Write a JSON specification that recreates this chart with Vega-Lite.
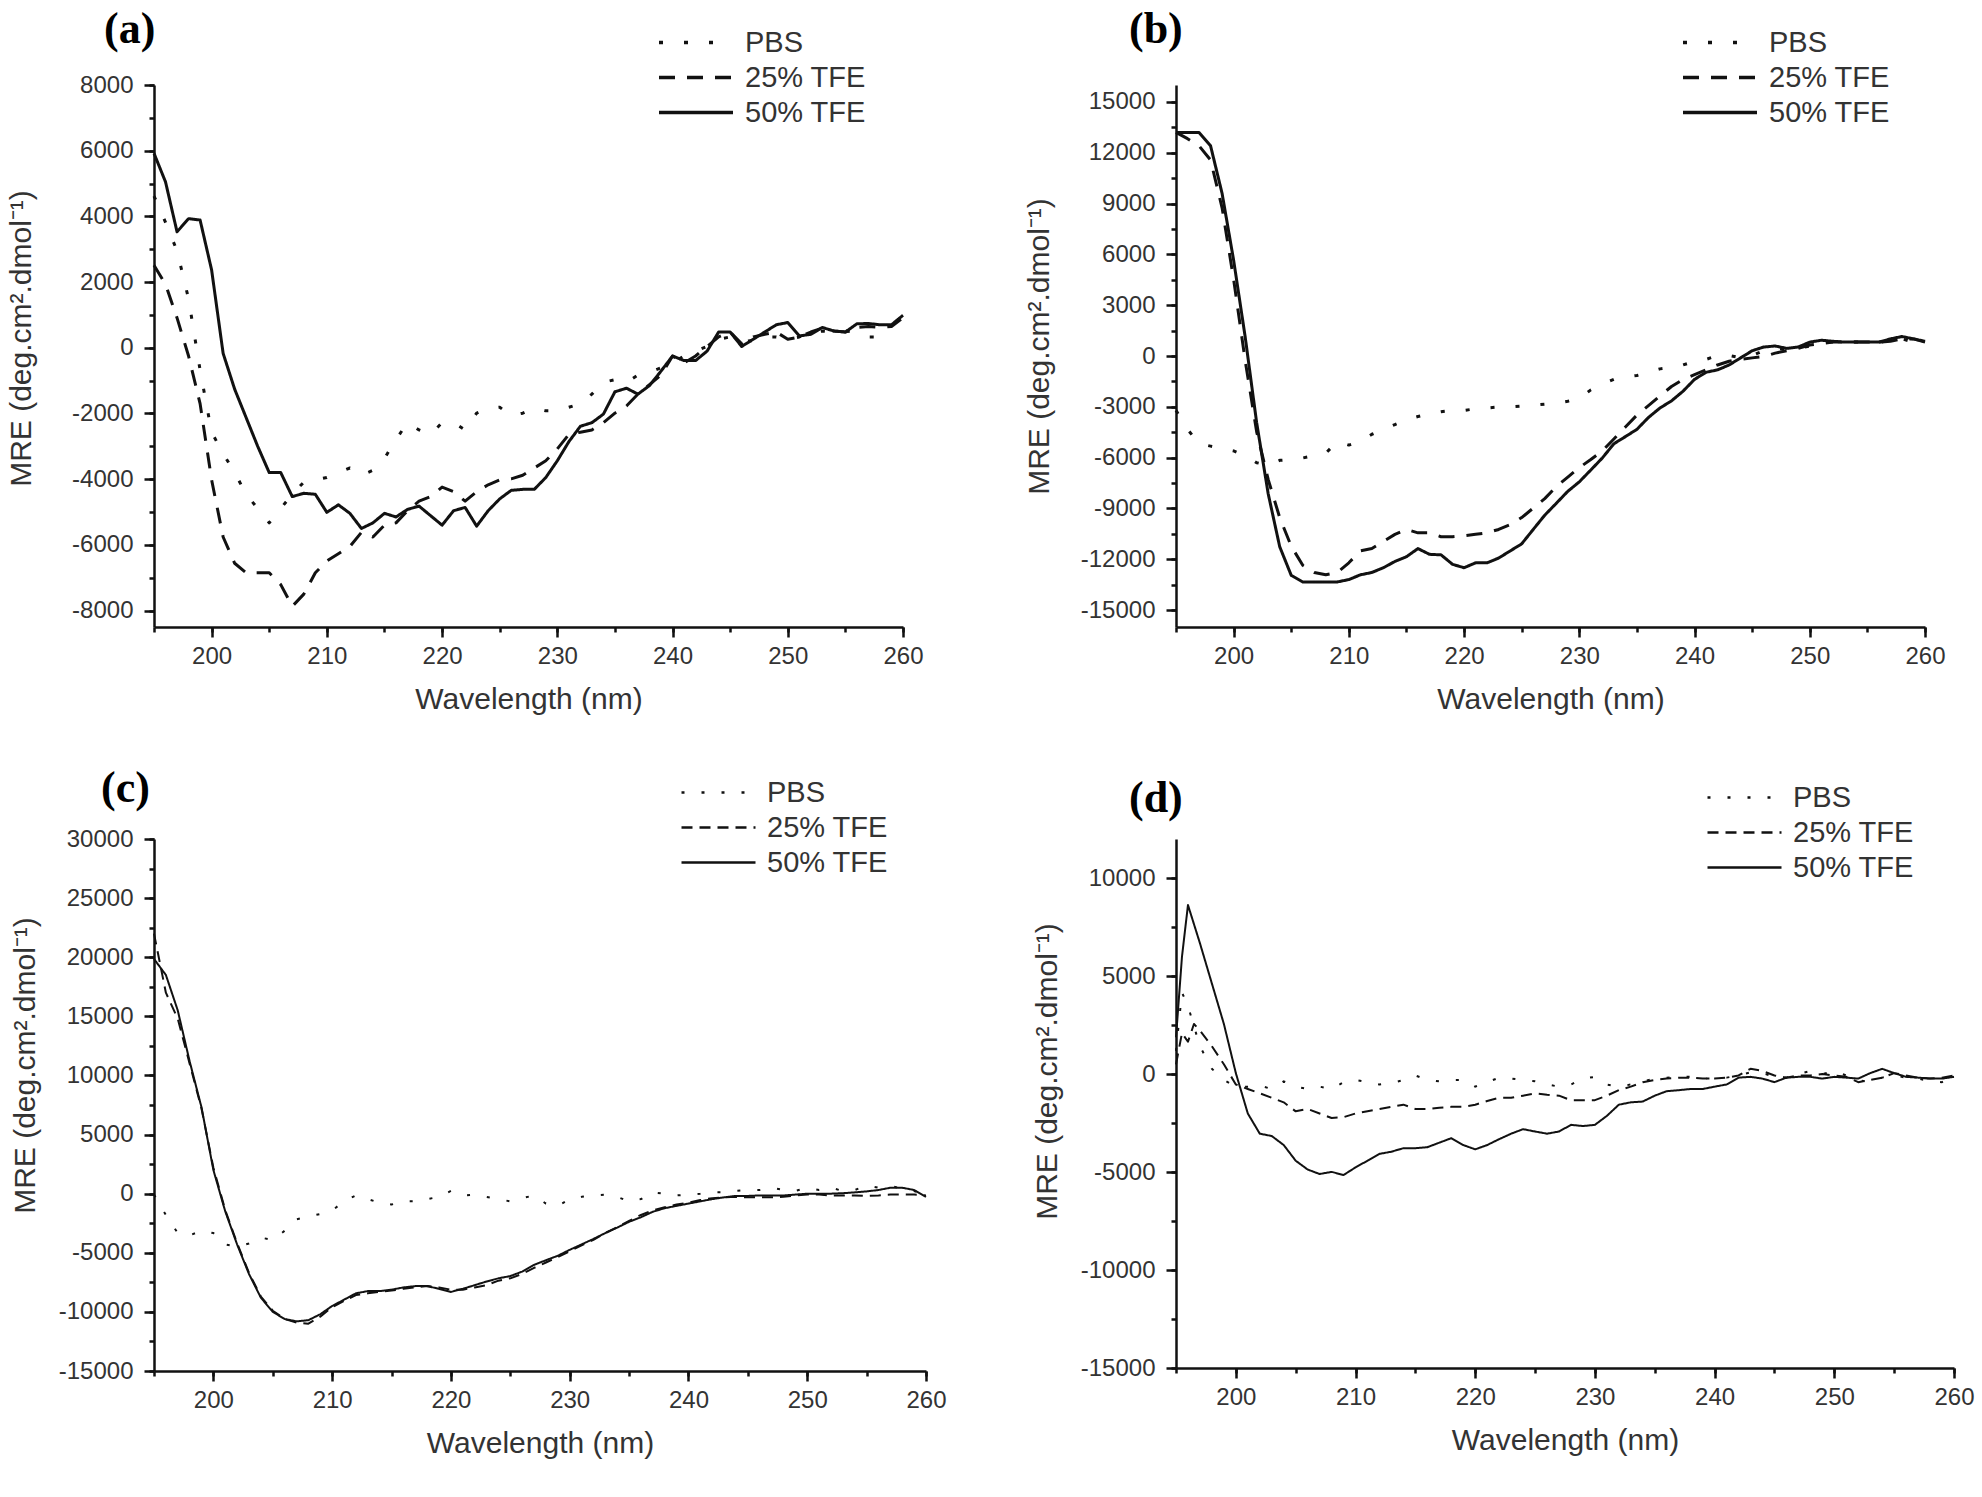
{
"$schema":"https://vega.github.io/schema/vega-lite/v6.json",
"padding":{"left":6,"top":8,"right":5,"bottom":5},
"background":"white",
"data":{"values":[
{"p":"a","s":"PBS","w":195,"m":4620},{"p":"a","s":"PBS","w":196,"m":3820},{"p":"a","s":"PBS","w":197,"m":2950},{"p":"a","s":"PBS","w":198,"m":1490},{"p":"a","s":"PBS","w":199,"m":-680},{"p":"a","s":"PBS","w":200,"m":-2570},{"p":"a","s":"PBS","w":201,"m":-3220},{"p":"a","s":"PBS","w":202,"m":-3800},{"p":"a","s":"PBS","w":203,"m":-4460},{"p":"a","s":"PBS","w":204,"m":-4890},{"p":"a","s":"PBS","w":205,"m":-5330},{"p":"a","s":"PBS","w":206,"m":-4890},{"p":"a","s":"PBS","w":207,"m":-4460},{"p":"a","s":"PBS","w":208,"m":-4090},{"p":"a","s":"PBS","w":209,"m":-4020},{"p":"a","s":"PBS","w":210,"m":-3950},{"p":"a","s":"PBS","w":211,"m":-3800},{"p":"a","s":"PBS","w":212,"m":-3660},{"p":"a","s":"PBS","w":213,"m":-3880},{"p":"a","s":"PBS","w":214,"m":-3730},{"p":"a","s":"PBS","w":215,"m":-3370},{"p":"a","s":"PBS","w":216,"m":-2790},{"p":"a","s":"PBS","w":217,"m":-2280},{"p":"a","s":"PBS","w":218,"m":-2500},{"p":"a","s":"PBS","w":219,"m":-2640},{"p":"a","s":"PBS","w":220,"m":-2280},{"p":"a","s":"PBS","w":221,"m":-2280},{"p":"a","s":"PBS","w":222,"m":-2500},{"p":"a","s":"PBS","w":223,"m":-1990},{"p":"a","s":"PBS","w":224,"m":-1840},{"p":"a","s":"PBS","w":225,"m":-1810},{"p":"a","s":"PBS","w":226,"m":-2060},{"p":"a","s":"PBS","w":227,"m":-1990},{"p":"a","s":"PBS","w":228,"m":-1840},{"p":"a","s":"PBS","w":229,"m":-1920},{"p":"a","s":"PBS","w":230,"m":-1920},{"p":"a","s":"PBS","w":231,"m":-1810},{"p":"a","s":"PBS","w":232,"m":-1700},{"p":"a","s":"PBS","w":233,"m":-1410},{"p":"a","s":"PBS","w":234,"m":-1050},{"p":"a","s":"PBS","w":235,"m":-970},{"p":"a","s":"PBS","w":236,"m":-1050},{"p":"a","s":"PBS","w":237,"m":-830},{"p":"a","s":"PBS","w":238,"m":-750},{"p":"a","s":"PBS","w":239,"m":-610},{"p":"a","s":"PBS","w":240,"m":-460},{"p":"a","s":"PBS","w":241,"m":-250},{"p":"a","s":"PBS","w":242,"m":-100},{"p":"a","s":"PBS","w":243,"m":40},{"p":"a","s":"PBS","w":244,"m":260},{"p":"a","s":"PBS","w":245,"m":330},{"p":"a","s":"PBS","w":246,"m":190},{"p":"a","s":"PBS","w":247,"m":220},{"p":"a","s":"PBS","w":248,"m":330},{"p":"a","s":"PBS","w":249,"m":330},{"p":"a","s":"PBS","w":250,"m":260},{"p":"a","s":"PBS","w":251,"m":330},{"p":"a","s":"PBS","w":252,"m":480},{"p":"a","s":"PBS","w":253,"m":510},{"p":"a","s":"PBS","w":254,"m":480},{"p":"a","s":"PBS","w":255,"m":510},{"p":"a","s":"PBS","w":256,"m":480},{"p":"a","s":"PBS","w":257,"m":330},{"p":"a","s":"PBS","w":258,"m":330},{"p":"a","s":"PBS","w":259,"m":260},
{"p":"a","s":"25% TFE","w":195,"m":2510},{"p":"a","s":"25% TFE","w":196,"m":1930},{"p":"a","s":"25% TFE","w":197,"m":910},{"p":"a","s":"25% TFE","w":198,"m":-250},{"p":"a","s":"25% TFE","w":199,"m":-1700},{"p":"a","s":"25% TFE","w":200,"m":-4020},{"p":"a","s":"25% TFE","w":201,"m":-5760},{"p":"a","s":"25% TFE","w":202,"m":-6560},{"p":"a","s":"25% TFE","w":203,"m":-6850},{"p":"a","s":"25% TFE","w":204,"m":-6850},{"p":"a","s":"25% TFE","w":205,"m":-6850},{"p":"a","s":"25% TFE","w":206,"m":-7210},{"p":"a","s":"25% TFE","w":207,"m":-7870},{"p":"a","s":"25% TFE","w":208,"m":-7500},{"p":"a","s":"25% TFE","w":209,"m":-6850},{"p":"a","s":"25% TFE","w":210,"m":-6490},{"p":"a","s":"25% TFE","w":211,"m":-6270},{"p":"a","s":"25% TFE","w":212,"m":-6050},{"p":"a","s":"25% TFE","w":213,"m":-5620},{"p":"a","s":"25% TFE","w":214,"m":-5760},{"p":"a","s":"25% TFE","w":215,"m":-5400},{"p":"a","s":"25% TFE","w":216,"m":-5330},{"p":"a","s":"25% TFE","w":217,"m":-4960},{"p":"a","s":"25% TFE","w":218,"m":-4670},{"p":"a","s":"25% TFE","w":219,"m":-4530},{"p":"a","s":"25% TFE","w":220,"m":-4240},{"p":"a","s":"25% TFE","w":221,"m":-4380},{"p":"a","s":"25% TFE","w":222,"m":-4670},{"p":"a","s":"25% TFE","w":223,"m":-4380},{"p":"a","s":"25% TFE","w":224,"m":-4170},{"p":"a","s":"25% TFE","w":225,"m":-4020},{"p":"a","s":"25% TFE","w":226,"m":-3990},{"p":"a","s":"25% TFE","w":227,"m":-3880},{"p":"a","s":"25% TFE","w":228,"m":-3660},{"p":"a","s":"25% TFE","w":229,"m":-3440},{"p":"a","s":"25% TFE","w":230,"m":-3080},{"p":"a","s":"25% TFE","w":231,"m":-2640},{"p":"a","s":"25% TFE","w":232,"m":-2570},{"p":"a","s":"25% TFE","w":233,"m":-2500},{"p":"a","s":"25% TFE","w":234,"m":-2280},{"p":"a","s":"25% TFE","w":235,"m":-1990},{"p":"a","s":"25% TFE","w":236,"m":-1770},{"p":"a","s":"25% TFE","w":237,"m":-1410},{"p":"a","s":"25% TFE","w":238,"m":-1120},{"p":"a","s":"25% TFE","w":239,"m":-830},{"p":"a","s":"25% TFE","w":240,"m":-250},{"p":"a","s":"25% TFE","w":241,"m":-460},{"p":"a","s":"25% TFE","w":242,"m":-250},{"p":"a","s":"25% TFE","w":243,"m":40},{"p":"a","s":"25% TFE","w":244,"m":330},{"p":"a","s":"25% TFE","w":245,"m":480},{"p":"a","s":"25% TFE","w":246,"m":120},{"p":"a","s":"25% TFE","w":247,"m":330},{"p":"a","s":"25% TFE","w":248,"m":410},{"p":"a","s":"25% TFE","w":249,"m":480},{"p":"a","s":"25% TFE","w":250,"m":260},{"p":"a","s":"25% TFE","w":251,"m":330},{"p":"a","s":"25% TFE","w":252,"m":480},{"p":"a","s":"25% TFE","w":253,"m":600},{"p":"a","s":"25% TFE","w":254,"m":510},{"p":"a","s":"25% TFE","w":255,"m":480},{"p":"a","s":"25% TFE","w":256,"m":620},{"p":"a","s":"25% TFE","w":257,"m":650},{"p":"a","s":"25% TFE","w":258,"m":620},{"p":"a","s":"25% TFE","w":259,"m":650},{"p":"a","s":"25% TFE","w":260,"m":910},
{"p":"a","s":"50% TFE","w":195,"m":5920},{"p":"a","s":"50% TFE","w":196,"m":5050},{"p":"a","s":"50% TFE","w":197,"m":3530},{"p":"a","s":"50% TFE","w":198,"m":3930},{"p":"a","s":"50% TFE","w":199,"m":3890},{"p":"a","s":"50% TFE","w":200,"m":2370},{"p":"a","s":"50% TFE","w":201,"m":-170},{"p":"a","s":"50% TFE","w":202,"m":-1260},{"p":"a","s":"50% TFE","w":203,"m":-2130},{"p":"a","s":"50% TFE","w":204,"m":-3000},{"p":"a","s":"50% TFE","w":205,"m":-3800},{"p":"a","s":"50% TFE","w":206,"m":-3800},{"p":"a","s":"50% TFE","w":207,"m":-4530},{"p":"a","s":"50% TFE","w":208,"m":-4430},{"p":"a","s":"50% TFE","w":209,"m":-4460},{"p":"a","s":"50% TFE","w":210,"m":-5010},{"p":"a","s":"50% TFE","w":211,"m":-4780},{"p":"a","s":"50% TFE","w":212,"m":-5040},{"p":"a","s":"50% TFE","w":213,"m":-5500},{"p":"a","s":"50% TFE","w":214,"m":-5330},{"p":"a","s":"50% TFE","w":215,"m":-5040},{"p":"a","s":"50% TFE","w":216,"m":-5150},{"p":"a","s":"50% TFE","w":217,"m":-4920},{"p":"a","s":"50% TFE","w":218,"m":-4820},{"p":"a","s":"50% TFE","w":219,"m":-5110},{"p":"a","s":"50% TFE","w":220,"m":-5400},{"p":"a","s":"50% TFE","w":221,"m":-4960},{"p":"a","s":"50% TFE","w":222,"m":-4860},{"p":"a","s":"50% TFE","w":223,"m":-5430},{"p":"a","s":"50% TFE","w":224,"m":-4960},{"p":"a","s":"50% TFE","w":225,"m":-4600},{"p":"a","s":"50% TFE","w":226,"m":-4340},{"p":"a","s":"50% TFE","w":227,"m":-4310},{"p":"a","s":"50% TFE","w":228,"m":-4310},{"p":"a","s":"50% TFE","w":229,"m":-3950},{"p":"a","s":"50% TFE","w":230,"m":-3440},{"p":"a","s":"50% TFE","w":231,"m":-2860},{"p":"a","s":"50% TFE","w":232,"m":-2390},{"p":"a","s":"50% TFE","w":233,"m":-2280},{"p":"a","s":"50% TFE","w":234,"m":-2020},{"p":"a","s":"50% TFE","w":235,"m":-1340},{"p":"a","s":"50% TFE","w":236,"m":-1230},{"p":"a","s":"50% TFE","w":237,"m":-1410},{"p":"a","s":"50% TFE","w":238,"m":-1150},{"p":"a","s":"50% TFE","w":239,"m":-710},{"p":"a","s":"50% TFE","w":240,"m":-250},{"p":"a","s":"50% TFE","w":241,"m":-390},{"p":"a","s":"50% TFE","w":242,"m":-390},{"p":"a","s":"50% TFE","w":243,"m":-100},{"p":"a","s":"50% TFE","w":244,"m":480},{"p":"a","s":"50% TFE","w":245,"m":480},{"p":"a","s":"50% TFE","w":246,"m":40},{"p":"a","s":"50% TFE","w":247,"m":260},{"p":"a","s":"50% TFE","w":248,"m":480},{"p":"a","s":"50% TFE","w":249,"m":700},{"p":"a","s":"50% TFE","w":250,"m":770},{"p":"a","s":"50% TFE","w":251,"m":360},{"p":"a","s":"50% TFE","w":252,"m":410},{"p":"a","s":"50% TFE","w":253,"m":620},{"p":"a","s":"50% TFE","w":254,"m":510},{"p":"a","s":"50% TFE","w":255,"m":480},{"p":"a","s":"50% TFE","w":256,"m":730},{"p":"a","s":"50% TFE","w":257,"m":740},{"p":"a","s":"50% TFE","w":258,"m":700},{"p":"a","s":"50% TFE","w":259,"m":700},{"p":"a","s":"50% TFE","w":260,"m":990},
{"p":"b","s":"PBS","w":195,"m":-3210},{"p":"b","s":"PBS","w":196,"m":-4330},{"p":"b","s":"PBS","w":197,"m":-5180},{"p":"b","s":"PBS","w":198,"m":-5320},{"p":"b","s":"PBS","w":199,"m":-5460},{"p":"b","s":"PBS","w":200,"m":-5600},{"p":"b","s":"PBS","w":201,"m":-5880},{"p":"b","s":"PBS","w":202,"m":-6300},{"p":"b","s":"PBS","w":203,"m":-6450},{"p":"b","s":"PBS","w":204,"m":-6160},{"p":"b","s":"PBS","w":205,"m":-6110},{"p":"b","s":"PBS","w":206,"m":-6020},{"p":"b","s":"PBS","w":207,"m":-5880},{"p":"b","s":"PBS","w":208,"m":-5740},{"p":"b","s":"PBS","w":209,"m":-5040},{"p":"b","s":"PBS","w":210,"m":-5260},{"p":"b","s":"PBS","w":211,"m":-5040},{"p":"b","s":"PBS","w":212,"m":-4620},{"p":"b","s":"PBS","w":213,"m":-4330},{"p":"b","s":"PBS","w":214,"m":-4050},{"p":"b","s":"PBS","w":215,"m":-3770},{"p":"b","s":"PBS","w":216,"m":-3570},{"p":"b","s":"PBS","w":217,"m":-3410},{"p":"b","s":"PBS","w":218,"m":-3290},{"p":"b","s":"PBS","w":219,"m":-3210},{"p":"b","s":"PBS","w":220,"m":-3210},{"p":"b","s":"PBS","w":221,"m":-3120},{"p":"b","s":"PBS","w":222,"m":-3070},{"p":"b","s":"PBS","w":223,"m":-3010},{"p":"b","s":"PBS","w":224,"m":-3010},{"p":"b","s":"PBS","w":225,"m":-2960},{"p":"b","s":"PBS","w":226,"m":-2900},{"p":"b","s":"PBS","w":227,"m":-2840},{"p":"b","s":"PBS","w":228,"m":-2790},{"p":"b","s":"PBS","w":229,"m":-2670},{"p":"b","s":"PBS","w":230,"m":-2500},{"p":"b","s":"PBS","w":231,"m":-2000},{"p":"b","s":"PBS","w":232,"m":-1660},{"p":"b","s":"PBS","w":233,"m":-1380},{"p":"b","s":"PBS","w":234,"m":-1240},{"p":"b","s":"PBS","w":235,"m":-1150},{"p":"b","s":"PBS","w":236,"m":-960},{"p":"b","s":"PBS","w":237,"m":-760},{"p":"b","s":"PBS","w":238,"m":-680},{"p":"b","s":"PBS","w":239,"m":-530},{"p":"b","s":"PBS","w":240,"m":-310},{"p":"b","s":"PBS","w":241,"m":-200},{"p":"b","s":"PBS","w":242,"m":30},{"p":"b","s":"PBS","w":243,"m":30},{"p":"b","s":"PBS","w":244,"m":-110},{"p":"b","s":"PBS","w":245,"m":30},{"p":"b","s":"PBS","w":246,"m":310},{"p":"b","s":"PBS","w":247,"m":450},{"p":"b","s":"PBS","w":248,"m":390},{"p":"b","s":"PBS","w":249,"m":450},{"p":"b","s":"PBS","w":250,"m":590},{"p":"b","s":"PBS","w":251,"m":820},{"p":"b","s":"PBS","w":252,"m":820},{"p":"b","s":"PBS","w":253,"m":820},{"p":"b","s":"PBS","w":254,"m":820},{"p":"b","s":"PBS","w":255,"m":820},{"p":"b","s":"PBS","w":256,"m":820},{"p":"b","s":"PBS","w":257,"m":870},{"p":"b","s":"PBS","w":258,"m":1010},{"p":"b","s":"PBS","w":259,"m":820},{"p":"b","s":"PBS","w":260,"m":820},
{"p":"b","s":"25% TFE","w":195,"m":13200},{"p":"b","s":"25% TFE","w":196,"m":12830},{"p":"b","s":"25% TFE","w":197,"m":12410},{"p":"b","s":"25% TFE","w":198,"m":11570},{"p":"b","s":"25% TFE","w":199,"m":8750},{"p":"b","s":"25% TFE","w":200,"m":4530},{"p":"b","s":"25% TFE","w":201,"m":-250},{"p":"b","s":"25% TFE","w":202,"m":-4480},{"p":"b","s":"25% TFE","w":203,"m":-7290},{"p":"b","s":"25% TFE","w":204,"m":-9540},{"p":"b","s":"25% TFE","w":205,"m":-11230},{"p":"b","s":"25% TFE","w":206,"m":-12360},{"p":"b","s":"25% TFE","w":207,"m":-12780},{"p":"b","s":"25% TFE","w":208,"m":-12920},{"p":"b","s":"25% TFE","w":209,"m":-12780},{"p":"b","s":"25% TFE","w":210,"m":-12210},{"p":"b","s":"25% TFE","w":211,"m":-11510},{"p":"b","s":"25% TFE","w":212,"m":-11370},{"p":"b","s":"25% TFE","w":213,"m":-10950},{"p":"b","s":"25% TFE","w":214,"m":-10530},{"p":"b","s":"25% TFE","w":215,"m":-10240},{"p":"b","s":"25% TFE","w":216,"m":-10440},{"p":"b","s":"25% TFE","w":217,"m":-10440},{"p":"b","s":"25% TFE","w":218,"m":-10670},{"p":"b","s":"25% TFE","w":219,"m":-10670},{"p":"b","s":"25% TFE","w":220,"m":-10610},{"p":"b","s":"25% TFE","w":221,"m":-10530},{"p":"b","s":"25% TFE","w":222,"m":-10440},{"p":"b","s":"25% TFE","w":223,"m":-10240},{"p":"b","s":"25% TFE","w":224,"m":-9960},{"p":"b","s":"25% TFE","w":225,"m":-9540},{"p":"b","s":"25% TFE","w":226,"m":-8980},{"p":"b","s":"25% TFE","w":227,"m":-8420},{"p":"b","s":"25% TFE","w":228,"m":-7710},{"p":"b","s":"25% TFE","w":229,"m":-7150},{"p":"b","s":"25% TFE","w":230,"m":-6590},{"p":"b","s":"25% TFE","w":231,"m":-6110},{"p":"b","s":"25% TFE","w":232,"m":-5600},{"p":"b","s":"25% TFE","w":233,"m":-4900},{"p":"b","s":"25% TFE","w":234,"m":-4190},{"p":"b","s":"25% TFE","w":235,"m":-3490},{"p":"b","s":"25% TFE","w":236,"m":-2930},{"p":"b","s":"25% TFE","w":237,"m":-2360},{"p":"b","s":"25% TFE","w":238,"m":-1800},{"p":"b","s":"25% TFE","w":239,"m":-1380},{"p":"b","s":"25% TFE","w":240,"m":-1100},{"p":"b","s":"25% TFE","w":241,"m":-820},{"p":"b","s":"25% TFE","w":242,"m":-530},{"p":"b","s":"25% TFE","w":243,"m":-310},{"p":"b","s":"25% TFE","w":244,"m":-200},{"p":"b","s":"25% TFE","w":245,"m":-110},{"p":"b","s":"25% TFE","w":246,"m":-30},{"p":"b","s":"25% TFE","w":247,"m":170},{"p":"b","s":"25% TFE","w":248,"m":310},{"p":"b","s":"25% TFE","w":249,"m":450},{"p":"b","s":"25% TFE","w":250,"m":650},{"p":"b","s":"25% TFE","w":251,"m":730},{"p":"b","s":"25% TFE","w":252,"m":820},{"p":"b","s":"25% TFE","w":253,"m":820},{"p":"b","s":"25% TFE","w":254,"m":820},{"p":"b","s":"25% TFE","w":255,"m":820},{"p":"b","s":"25% TFE","w":256,"m":820},{"p":"b","s":"25% TFE","w":257,"m":870},{"p":"b","s":"25% TFE","w":258,"m":1010},{"p":"b","s":"25% TFE","w":259,"m":1010},{"p":"b","s":"25% TFE","w":260,"m":820},
{"p":"b","s":"50% TFE","w":195,"m":13200},{"p":"b","s":"50% TFE","w":196,"m":13200},{"p":"b","s":"50% TFE","w":197,"m":13200},{"p":"b","s":"50% TFE","w":198,"m":12410},{"p":"b","s":"50% TFE","w":199,"m":9600},{"p":"b","s":"50% TFE","w":200,"m":5660},{"p":"b","s":"50% TFE","w":201,"m":1150},{"p":"b","s":"50% TFE","w":202,"m":-3940},{"p":"b","s":"50% TFE","w":203,"m":-8130},{"p":"b","s":"50% TFE","w":204,"m":-11260},{"p":"b","s":"50% TFE","w":205,"m":-12950},{"p":"b","s":"50% TFE","w":206,"m":-13340},{"p":"b","s":"50% TFE","w":207,"m":-13340},{"p":"b","s":"50% TFE","w":208,"m":-13340},{"p":"b","s":"50% TFE","w":209,"m":-13340},{"p":"b","s":"50% TFE","w":210,"m":-13200},{"p":"b","s":"50% TFE","w":211,"m":-12920},{"p":"b","s":"50% TFE","w":212,"m":-12780},{"p":"b","s":"50% TFE","w":213,"m":-12500},{"p":"b","s":"50% TFE","w":214,"m":-12130},{"p":"b","s":"50% TFE","w":215,"m":-11850},{"p":"b","s":"50% TFE","w":216,"m":-11370},{"p":"b","s":"50% TFE","w":217,"m":-11710},{"p":"b","s":"50% TFE","w":218,"m":-11740},{"p":"b","s":"50% TFE","w":219,"m":-12300},{"p":"b","s":"50% TFE","w":220,"m":-12500},{"p":"b","s":"50% TFE","w":221,"m":-12210},{"p":"b","s":"50% TFE","w":222,"m":-12210},{"p":"b","s":"50% TFE","w":223,"m":-11930},{"p":"b","s":"50% TFE","w":224,"m":-11510},{"p":"b","s":"50% TFE","w":225,"m":-11090},{"p":"b","s":"50% TFE","w":226,"m":-10240},{"p":"b","s":"50% TFE","w":227,"m":-9400},{"p":"b","s":"50% TFE","w":228,"m":-8700},{"p":"b","s":"50% TFE","w":229,"m":-7990},{"p":"b","s":"50% TFE","w":230,"m":-7430},{"p":"b","s":"50% TFE","w":231,"m":-6730},{"p":"b","s":"50% TFE","w":232,"m":-6020},{"p":"b","s":"50% TFE","w":233,"m":-5180},{"p":"b","s":"50% TFE","w":234,"m":-4760},{"p":"b","s":"50% TFE","w":235,"m":-4330},{"p":"b","s":"50% TFE","w":236,"m":-3630},{"p":"b","s":"50% TFE","w":237,"m":-3070},{"p":"b","s":"50% TFE","w":238,"m":-2650},{"p":"b","s":"50% TFE","w":239,"m":-2080},{"p":"b","s":"50% TFE","w":240,"m":-1380},{"p":"b","s":"50% TFE","w":241,"m":-960},{"p":"b","s":"50% TFE","w":242,"m":-820},{"p":"b","s":"50% TFE","w":243,"m":-530},{"p":"b","s":"50% TFE","w":244,"m":-110},{"p":"b","s":"50% TFE","w":245,"m":310},{"p":"b","s":"50% TFE","w":246,"m":530},{"p":"b","s":"50% TFE","w":247,"m":590},{"p":"b","s":"50% TFE","w":248,"m":450},{"p":"b","s":"50% TFE","w":249,"m":530},{"p":"b","s":"50% TFE","w":250,"m":820},{"p":"b","s":"50% TFE","w":251,"m":930},{"p":"b","s":"50% TFE","w":252,"m":870},{"p":"b","s":"50% TFE","w":253,"m":820},{"p":"b","s":"50% TFE","w":254,"m":820},{"p":"b","s":"50% TFE","w":255,"m":820},{"p":"b","s":"50% TFE","w":256,"m":820},{"p":"b","s":"50% TFE","w":257,"m":1010},{"p":"b","s":"50% TFE","w":258,"m":1150},{"p":"b","s":"50% TFE","w":259,"m":1010},{"p":"b","s":"50% TFE","w":260,"m":870},
{"p":"c","s":"PBS","w":195,"m":-80},{"p":"c","s":"PBS","w":196,"m":-1800},{"p":"c","s":"PBS","w":197,"m":-3330},{"p":"c","s":"PBS","w":198,"m":-3520},{"p":"c","s":"PBS","w":199,"m":-3140},{"p":"c","s":"PBS","w":200,"m":-3330},{"p":"c","s":"PBS","w":201,"m":-4290},{"p":"c","s":"PBS","w":202,"m":-4480},{"p":"c","s":"PBS","w":203,"m":-4210},{"p":"c","s":"PBS","w":204,"m":-3720},{"p":"c","s":"PBS","w":205,"m":-3910},{"p":"c","s":"PBS","w":206,"m":-3140},{"p":"c","s":"PBS","w":207,"m":-2180},{"p":"c","s":"PBS","w":208,"m":-1920},{"p":"c","s":"PBS","w":209,"m":-1720},{"p":"c","s":"PBS","w":210,"m":-1420},{"p":"c","s":"PBS","w":211,"m":-650},{"p":"c","s":"PBS","w":212,"m":-150},{"p":"c","s":"PBS","w":213,"m":-460},{"p":"c","s":"PBS","w":214,"m":-770},{"p":"c","s":"PBS","w":215,"m":-920},{"p":"c","s":"PBS","w":216,"m":-650},{"p":"c","s":"PBS","w":217,"m":-650},{"p":"c","s":"PBS","w":218,"m":-460},{"p":"c","s":"PBS","w":219,"m":-270},{"p":"c","s":"PBS","w":220,"m":230},{"p":"c","s":"PBS","w":221,"m":-150},{"p":"c","s":"PBS","w":222,"m":-80},{"p":"c","s":"PBS","w":223,"m":-270},{"p":"c","s":"PBS","w":224,"m":-460},{"p":"c","s":"PBS","w":225,"m":-650},{"p":"c","s":"PBS","w":226,"m":-380},{"p":"c","s":"PBS","w":227,"m":-150},{"p":"c","s":"PBS","w":228,"m":-840},{"p":"c","s":"PBS","w":229,"m":-1030},{"p":"c","s":"PBS","w":230,"m":-460},{"p":"c","s":"PBS","w":231,"m":-270},{"p":"c","s":"PBS","w":232,"m":-150},{"p":"c","s":"PBS","w":233,"m":-80},{"p":"c","s":"PBS","w":234,"m":-270},{"p":"c","s":"PBS","w":235,"m":-650},{"p":"c","s":"PBS","w":236,"m":-460},{"p":"c","s":"PBS","w":237,"m":110},{"p":"c","s":"PBS","w":238,"m":0},{"p":"c","s":"PBS","w":239,"m":-150},{"p":"c","s":"PBS","w":240,"m":-80},{"p":"c","s":"PBS","w":241,"m":0},{"p":"c","s":"PBS","w":242,"m":110},{"p":"c","s":"PBS","w":243,"m":110},{"p":"c","s":"PBS","w":244,"m":230},{"p":"c","s":"PBS","w":245,"m":310},{"p":"c","s":"PBS","w":246,"m":310},{"p":"c","s":"PBS","w":247,"m":500},{"p":"c","s":"PBS","w":248,"m":310},{"p":"c","s":"PBS","w":249,"m":230},{"p":"c","s":"PBS","w":250,"m":500},{"p":"c","s":"PBS","w":251,"m":310},{"p":"c","s":"PBS","w":252,"m":500},{"p":"c","s":"PBS","w":253,"m":230},{"p":"c","s":"PBS","w":254,"m":310},{"p":"c","s":"PBS","w":255,"m":690},{"p":"c","s":"PBS","w":256,"m":500},{"p":"c","s":"PBS","w":257,"m":690},{"p":"c","s":"PBS","w":258,"m":380},{"p":"c","s":"PBS","w":259,"m":230},{"p":"c","s":"PBS","w":260,"m":-80},
{"p":"c","s":"25% TFE","w":195,"m":22000},{"p":"c","s":"25% TFE","w":196,"m":17000},{"p":"c","s":"25% TFE","w":197,"m":14800},{"p":"c","s":"25% TFE","w":198,"m":11000},{"p":"c","s":"25% TFE","w":199,"m":7200},{"p":"c","s":"25% TFE","w":200,"m":2200},{"p":"c","s":"25% TFE","w":201,"m":-1400},{"p":"c","s":"25% TFE","w":202,"m":-4200},{"p":"c","s":"25% TFE","w":203,"m":-6700},{"p":"c","s":"25% TFE","w":204,"m":-8700},{"p":"c","s":"25% TFE","w":205,"m":-9900},{"p":"c","s":"25% TFE","w":206,"m":-10600},{"p":"c","s":"25% TFE","w":207,"m":-10900},{"p":"c","s":"25% TFE","w":208,"m":-11000},{"p":"c","s":"25% TFE","w":209,"m":-10400},{"p":"c","s":"25% TFE","w":210,"m":-9600},{"p":"c","s":"25% TFE","w":211,"m":-9080},{"p":"c","s":"25% TFE","w":212,"m":-8580},{"p":"c","s":"25% TFE","w":213,"m":-8430},{"p":"c","s":"25% TFE","w":214,"m":-8310},{"p":"c","s":"25% TFE","w":215,"m":-8200},{"p":"c","s":"25% TFE","w":216,"m":-8050},{"p":"c","s":"25% TFE","w":217,"m":-7930},{"p":"c","s":"25% TFE","w":218,"m":-7820},{"p":"c","s":"25% TFE","w":219,"m":-7930},{"p":"c","s":"25% TFE","w":220,"m":-8120},{"p":"c","s":"25% TFE","w":221,"m":-8120},{"p":"c","s":"25% TFE","w":222,"m":-7930},{"p":"c","s":"25% TFE","w":223,"m":-7740},{"p":"c","s":"25% TFE","w":224,"m":-7360},{"p":"c","s":"25% TFE","w":225,"m":-7160},{"p":"c","s":"25% TFE","w":226,"m":-6780},{"p":"c","s":"25% TFE","w":227,"m":-6280},{"p":"c","s":"25% TFE","w":228,"m":-5820},{"p":"c","s":"25% TFE","w":229,"m":-5360},{"p":"c","s":"25% TFE","w":230,"m":-4870},{"p":"c","s":"25% TFE","w":231,"m":-4370},{"p":"c","s":"25% TFE","w":232,"m":-3910},{"p":"c","s":"25% TFE","w":233,"m":-3330},{"p":"c","s":"25% TFE","w":234,"m":-2840},{"p":"c","s":"25% TFE","w":235,"m":-2300},{"p":"c","s":"25% TFE","w":236,"m":-1800},{"p":"c","s":"25% TFE","w":237,"m":-1420},{"p":"c","s":"25% TFE","w":238,"m":-1150},{"p":"c","s":"25% TFE","w":239,"m":-920},{"p":"c","s":"25% TFE","w":240,"m":-770},{"p":"c","s":"25% TFE","w":241,"m":-540},{"p":"c","s":"25% TFE","w":242,"m":-380},{"p":"c","s":"25% TFE","w":243,"m":-310},{"p":"c","s":"25% TFE","w":244,"m":-270},{"p":"c","s":"25% TFE","w":245,"m":-310},{"p":"c","s":"25% TFE","w":246,"m":-310},{"p":"c","s":"25% TFE","w":247,"m":-310},{"p":"c","s":"25% TFE","w":248,"m":-270},{"p":"c","s":"25% TFE","w":249,"m":-150},{"p":"c","s":"25% TFE","w":250,"m":-80},{"p":"c","s":"25% TFE","w":251,"m":-80},{"p":"c","s":"25% TFE","w":252,"m":-150},{"p":"c","s":"25% TFE","w":253,"m":-150},{"p":"c","s":"25% TFE","w":254,"m":-150},{"p":"c","s":"25% TFE","w":255,"m":-190},{"p":"c","s":"25% TFE","w":256,"m":-150},{"p":"c","s":"25% TFE","w":257,"m":-80},{"p":"c","s":"25% TFE","w":258,"m":-80},{"p":"c","s":"25% TFE","w":259,"m":-80},{"p":"c","s":"25% TFE","w":260,"m":-150},
{"p":"c","s":"50% TFE","w":195,"m":19850},{"p":"c","s":"50% TFE","w":196,"m":18500},{"p":"c","s":"50% TFE","w":197,"m":15500},{"p":"c","s":"50% TFE","w":198,"m":11200},{"p":"c","s":"50% TFE","w":199,"m":7300},{"p":"c","s":"50% TFE","w":200,"m":2000},{"p":"c","s":"50% TFE","w":201,"m":-1500},{"p":"c","s":"50% TFE","w":202,"m":-4300},{"p":"c","s":"50% TFE","w":203,"m":-6800},{"p":"c","s":"50% TFE","w":204,"m":-8800},{"p":"c","s":"50% TFE","w":205,"m":-10000},{"p":"c","s":"50% TFE","w":206,"m":-10600},{"p":"c","s":"50% TFE","w":207,"m":-10800},{"p":"c","s":"50% TFE","w":208,"m":-10700},{"p":"c","s":"50% TFE","w":209,"m":-10200},{"p":"c","s":"50% TFE","w":210,"m":-9500},{"p":"c","s":"50% TFE","w":211,"m":-8970},{"p":"c","s":"50% TFE","w":212,"m":-8430},{"p":"c","s":"50% TFE","w":213,"m":-8240},{"p":"c","s":"50% TFE","w":214,"m":-8240},{"p":"c","s":"50% TFE","w":215,"m":-8120},{"p":"c","s":"50% TFE","w":216,"m":-7930},{"p":"c","s":"50% TFE","w":217,"m":-7820},{"p":"c","s":"50% TFE","w":218,"m":-7820},{"p":"c","s":"50% TFE","w":219,"m":-8050},{"p":"c","s":"50% TFE","w":220,"m":-8310},{"p":"c","s":"50% TFE","w":221,"m":-8050},{"p":"c","s":"50% TFE","w":222,"m":-7740},{"p":"c","s":"50% TFE","w":223,"m":-7430},{"p":"c","s":"50% TFE","w":224,"m":-7160},{"p":"c","s":"50% TFE","w":225,"m":-6970},{"p":"c","s":"50% TFE","w":226,"m":-6590},{"p":"c","s":"50% TFE","w":227,"m":-6020},{"p":"c","s":"50% TFE","w":228,"m":-5630},{"p":"c","s":"50% TFE","w":229,"m":-5250},{"p":"c","s":"50% TFE","w":230,"m":-4750},{"p":"c","s":"50% TFE","w":231,"m":-4290},{"p":"c","s":"50% TFE","w":232,"m":-3830},{"p":"c","s":"50% TFE","w":233,"m":-3330},{"p":"c","s":"50% TFE","w":234,"m":-2870},{"p":"c","s":"50% TFE","w":235,"m":-2380},{"p":"c","s":"50% TFE","w":236,"m":-1990},{"p":"c","s":"50% TFE","w":237,"m":-1530},{"p":"c","s":"50% TFE","w":238,"m":-1230},{"p":"c","s":"50% TFE","w":239,"m":-1030},{"p":"c","s":"50% TFE","w":240,"m":-840},{"p":"c","s":"50% TFE","w":241,"m":-650},{"p":"c","s":"50% TFE","w":242,"m":-460},{"p":"c","s":"50% TFE","w":243,"m":-310},{"p":"c","s":"50% TFE","w":244,"m":-190},{"p":"c","s":"50% TFE","w":245,"m":-190},{"p":"c","s":"50% TFE","w":246,"m":-150},{"p":"c","s":"50% TFE","w":247,"m":-150},{"p":"c","s":"50% TFE","w":248,"m":-150},{"p":"c","s":"50% TFE","w":249,"m":-80},{"p":"c","s":"50% TFE","w":250,"m":0},{"p":"c","s":"50% TFE","w":251,"m":0},{"p":"c","s":"50% TFE","w":252,"m":0},{"p":"c","s":"50% TFE","w":253,"m":40},{"p":"c","s":"50% TFE","w":254,"m":110},{"p":"c","s":"50% TFE","w":255,"m":190},{"p":"c","s":"50% TFE","w":256,"m":310},{"p":"c","s":"50% TFE","w":257,"m":500},{"p":"c","s":"50% TFE","w":258,"m":500},{"p":"c","s":"50% TFE","w":259,"m":310},{"p":"c","s":"50% TFE","w":260,"m":-270},
{"p":"d","s":"PBS","w":195,"m":1190},{"p":"d","s":"PBS","w":195.5,"m":4160},{"p":"d","s":"PBS","w":196,"m":3480},{"p":"d","s":"PBS","w":197,"m":1420},{"p":"d","s":"PBS","w":198,"m":270},{"p":"d","s":"PBS","w":199,"m":-300},{"p":"d","s":"PBS","w":200,"m":-640},{"p":"d","s":"PBS","w":201,"m":-640},{"p":"d","s":"PBS","w":202,"m":-590},{"p":"d","s":"PBS","w":203,"m":-760},{"p":"d","s":"PBS","w":204,"m":-370},{"p":"d","s":"PBS","w":205,"m":-640},{"p":"d","s":"PBS","w":206,"m":-760},{"p":"d","s":"PBS","w":207,"m":-640},{"p":"d","s":"PBS","w":208,"m":-760},{"p":"d","s":"PBS","w":209,"m":-410},{"p":"d","s":"PBS","w":210,"m":-300},{"p":"d","s":"PBS","w":211,"m":-410},{"p":"d","s":"PBS","w":212,"m":-530},{"p":"d","s":"PBS","w":213,"m":-460},{"p":"d","s":"PBS","w":214,"m":-300},{"p":"d","s":"PBS","w":215,"m":-70},{"p":"d","s":"PBS","w":216,"m":-300},{"p":"d","s":"PBS","w":217,"m":-370},{"p":"d","s":"PBS","w":218,"m":-300},{"p":"d","s":"PBS","w":219,"m":-300},{"p":"d","s":"PBS","w":220,"m":-640},{"p":"d","s":"PBS","w":221,"m":-410},{"p":"d","s":"PBS","w":222,"m":-180},{"p":"d","s":"PBS","w":223,"m":-230},{"p":"d","s":"PBS","w":224,"m":-300},{"p":"d","s":"PBS","w":225,"m":-370},{"p":"d","s":"PBS","w":226,"m":-530},{"p":"d","s":"PBS","w":227,"m":-640},{"p":"d","s":"PBS","w":228,"m":-530},{"p":"d","s":"PBS","w":229,"m":-230},{"p":"d","s":"PBS","w":230,"m":-140},{"p":"d","s":"PBS","w":231,"m":-530},{"p":"d","s":"PBS","w":232,"m":-640},{"p":"d","s":"PBS","w":233,"m":-530},{"p":"d","s":"PBS","w":234,"m":-370},{"p":"d","s":"PBS","w":235,"m":-230},{"p":"d","s":"PBS","w":236,"m":-180},{"p":"d","s":"PBS","w":237,"m":-140},{"p":"d","s":"PBS","w":238,"m":-140},{"p":"d","s":"PBS","w":239,"m":-230},{"p":"d","s":"PBS","w":240,"m":-230},{"p":"d","s":"PBS","w":241,"m":-180},{"p":"d","s":"PBS","w":242,"m":-70},{"p":"d","s":"PBS","w":243,"m":90},{"p":"d","s":"PBS","w":244,"m":50},{"p":"d","s":"PBS","w":245,"m":-140},{"p":"d","s":"PBS","w":246,"m":-180},{"p":"d","s":"PBS","w":247,"m":0},{"p":"d","s":"PBS","w":248,"m":160},{"p":"d","s":"PBS","w":249,"m":0},{"p":"d","s":"PBS","w":250,"m":160},{"p":"d","s":"PBS","w":251,"m":-70},{"p":"d","s":"PBS","w":252,"m":-300},{"p":"d","s":"PBS","w":253,"m":-410},{"p":"d","s":"PBS","w":254,"m":-180},{"p":"d","s":"PBS","w":255,"m":-70},{"p":"d","s":"PBS","w":256,"m":-180},{"p":"d","s":"PBS","w":257,"m":-230},{"p":"d","s":"PBS","w":258,"m":-370},{"p":"d","s":"PBS","w":259,"m":-410},{"p":"d","s":"PBS","w":260,"m":-180},
{"p":"d","s":"25% TFE","w":195,"m":500},{"p":"d","s":"25% TFE","w":195.5,"m":2100},{"p":"d","s":"25% TFE","w":196,"m":1650},{"p":"d","s":"25% TFE","w":196.5,"m":2560},{"p":"d","s":"25% TFE","w":197,"m":2220},{"p":"d","s":"25% TFE","w":198,"m":1420},{"p":"d","s":"25% TFE","w":199,"m":500},{"p":"d","s":"25% TFE","w":200,"m":-530},{"p":"d","s":"25% TFE","w":201,"m":-760},{"p":"d","s":"25% TFE","w":202,"m":-980},{"p":"d","s":"25% TFE","w":203,"m":-1210},{"p":"d","s":"25% TFE","w":204,"m":-1440},{"p":"d","s":"25% TFE","w":205,"m":-1900},{"p":"d","s":"25% TFE","w":206,"m":-1780},{"p":"d","s":"25% TFE","w":207,"m":-2010},{"p":"d","s":"25% TFE","w":208,"m":-2240},{"p":"d","s":"25% TFE","w":209,"m":-2200},{"p":"d","s":"25% TFE","w":210,"m":-2010},{"p":"d","s":"25% TFE","w":211,"m":-1900},{"p":"d","s":"25% TFE","w":212,"m":-1780},{"p":"d","s":"25% TFE","w":213,"m":-1670},{"p":"d","s":"25% TFE","w":214,"m":-1560},{"p":"d","s":"25% TFE","w":215,"m":-1780},{"p":"d","s":"25% TFE","w":216,"m":-1780},{"p":"d","s":"25% TFE","w":217,"m":-1720},{"p":"d","s":"25% TFE","w":218,"m":-1670},{"p":"d","s":"25% TFE","w":219,"m":-1670},{"p":"d","s":"25% TFE","w":220,"m":-1560},{"p":"d","s":"25% TFE","w":221,"m":-1370},{"p":"d","s":"25% TFE","w":222,"m":-1210},{"p":"d","s":"25% TFE","w":223,"m":-1210},{"p":"d","s":"25% TFE","w":224,"m":-1100},{"p":"d","s":"25% TFE","w":225,"m":-980},{"p":"d","s":"25% TFE","w":226,"m":-1050},{"p":"d","s":"25% TFE","w":227,"m":-1100},{"p":"d","s":"25% TFE","w":228,"m":-1330},{"p":"d","s":"25% TFE","w":229,"m":-1330},{"p":"d","s":"25% TFE","w":230,"m":-1330},{"p":"d","s":"25% TFE","w":231,"m":-1100},{"p":"d","s":"25% TFE","w":232,"m":-820},{"p":"d","s":"25% TFE","w":233,"m":-640},{"p":"d","s":"25% TFE","w":234,"m":-410},{"p":"d","s":"25% TFE","w":235,"m":-300},{"p":"d","s":"25% TFE","w":236,"m":-230},{"p":"d","s":"25% TFE","w":237,"m":-180},{"p":"d","s":"25% TFE","w":238,"m":-180},{"p":"d","s":"25% TFE","w":239,"m":-230},{"p":"d","s":"25% TFE","w":240,"m":-230},{"p":"d","s":"25% TFE","w":241,"m":-180},{"p":"d","s":"25% TFE","w":242,"m":-70},{"p":"d","s":"25% TFE","w":243,"m":270},{"p":"d","s":"25% TFE","w":244,"m":160},{"p":"d","s":"25% TFE","w":245,"m":-70},{"p":"d","s":"25% TFE","w":246,"m":-180},{"p":"d","s":"25% TFE","w":247,"m":-70},{"p":"d","s":"25% TFE","w":248,"m":-70},{"p":"d","s":"25% TFE","w":249,"m":0},{"p":"d","s":"25% TFE","w":250,"m":-70},{"p":"d","s":"25% TFE","w":251,"m":-140},{"p":"d","s":"25% TFE","w":252,"m":-410},{"p":"d","s":"25% TFE","w":253,"m":-300},{"p":"d","s":"25% TFE","w":254,"m":-180},{"p":"d","s":"25% TFE","w":255,"m":50},{"p":"d","s":"25% TFE","w":256,"m":-70},{"p":"d","s":"25% TFE","w":257,"m":-180},{"p":"d","s":"25% TFE","w":258,"m":-230},{"p":"d","s":"25% TFE","w":259,"m":-180},{"p":"d","s":"25% TFE","w":260,"m":-70},
{"p":"d","s":"50% TFE","w":195,"m":1880},{"p":"d","s":"50% TFE","w":195.5,"m":6000},{"p":"d","s":"50% TFE","w":196,"m":8630},{"p":"d","s":"50% TFE","w":197,"m":6680},{"p":"d","s":"50% TFE","w":198,"m":4620},{"p":"d","s":"50% TFE","w":199,"m":2560},{"p":"d","s":"50% TFE","w":200,"m":50},{"p":"d","s":"50% TFE","w":201,"m":-2010},{"p":"d","s":"50% TFE","w":202,"m":-3040},{"p":"d","s":"50% TFE","w":203,"m":-3160},{"p":"d","s":"50% TFE","w":204,"m":-3620},{"p":"d","s":"50% TFE","w":205,"m":-4420},{"p":"d","s":"50% TFE","w":206,"m":-4870},{"p":"d","s":"50% TFE","w":207,"m":-5100},{"p":"d","s":"50% TFE","w":208,"m":-4990},{"p":"d","s":"50% TFE","w":209,"m":-5150},{"p":"d","s":"50% TFE","w":210,"m":-4760},{"p":"d","s":"50% TFE","w":211,"m":-4420},{"p":"d","s":"50% TFE","w":212,"m":-4070},{"p":"d","s":"50% TFE","w":213,"m":-3960},{"p":"d","s":"50% TFE","w":214,"m":-3780},{"p":"d","s":"50% TFE","w":215,"m":-3780},{"p":"d","s":"50% TFE","w":216,"m":-3730},{"p":"d","s":"50% TFE","w":217,"m":-3500},{"p":"d","s":"50% TFE","w":218,"m":-3270},{"p":"d","s":"50% TFE","w":219,"m":-3620},{"p":"d","s":"50% TFE","w":220,"m":-3840},{"p":"d","s":"50% TFE","w":221,"m":-3620},{"p":"d","s":"50% TFE","w":222,"m":-3320},{"p":"d","s":"50% TFE","w":223,"m":-3040},{"p":"d","s":"50% TFE","w":224,"m":-2810},{"p":"d","s":"50% TFE","w":225,"m":-2930},{"p":"d","s":"50% TFE","w":226,"m":-3040},{"p":"d","s":"50% TFE","w":227,"m":-2930},{"p":"d","s":"50% TFE","w":228,"m":-2590},{"p":"d","s":"50% TFE","w":229,"m":-2650},{"p":"d","s":"50% TFE","w":230,"m":-2590},{"p":"d","s":"50% TFE","w":231,"m":-2130},{"p":"d","s":"50% TFE","w":232,"m":-1560},{"p":"d","s":"50% TFE","w":233,"m":-1440},{"p":"d","s":"50% TFE","w":234,"m":-1400},{"p":"d","s":"50% TFE","w":235,"m":-1100},{"p":"d","s":"50% TFE","w":236,"m":-870},{"p":"d","s":"50% TFE","w":237,"m":-820},{"p":"d","s":"50% TFE","w":238,"m":-760},{"p":"d","s":"50% TFE","w":239,"m":-760},{"p":"d","s":"50% TFE","w":240,"m":-640},{"p":"d","s":"50% TFE","w":241,"m":-530},{"p":"d","s":"50% TFE","w":242,"m":-180},{"p":"d","s":"50% TFE","w":243,"m":-140},{"p":"d","s":"50% TFE","w":244,"m":-230},{"p":"d","s":"50% TFE","w":245,"m":-410},{"p":"d","s":"50% TFE","w":246,"m":-180},{"p":"d","s":"50% TFE","w":247,"m":-140},{"p":"d","s":"50% TFE","w":248,"m":-140},{"p":"d","s":"50% TFE","w":249,"m":-230},{"p":"d","s":"50% TFE","w":250,"m":-140},{"p":"d","s":"50% TFE","w":251,"m":-180},{"p":"d","s":"50% TFE","w":252,"m":-230},{"p":"d","s":"50% TFE","w":253,"m":50},{"p":"d","s":"50% TFE","w":254,"m":270},{"p":"d","s":"50% TFE","w":255,"m":50},{"p":"d","s":"50% TFE","w":256,"m":-140},{"p":"d","s":"50% TFE","w":257,"m":-180},{"p":"d","s":"50% TFE","w":258,"m":-230},{"p":"d","s":"50% TFE","w":259,"m":-230},{"p":"d","s":"50% TFE","w":260,"m":-140}
]},
"columns":2,
"spacing":{"row":53,"column":77},
"resolve":{"scale":{"strokeDash":"independent"},"legend":{"strokeDash":"independent"}},
"concat":[
{"title":{"text":"(a)","dx":-50,"offset":-24},
 "width":749,"height":542,
 "transform":[{"filter":"datum.p==='a'"}],
 "layer":[
  {"mark":{"type":"line","color":"#111","strokeWidth":3,"strokeJoin":"round"},
   "encoding":{
    "x":{"field":"w","type":"quantitative","scale":{"domain":[195,260],"nice":false,"zero":false},"axis":{"values":[200,210,220,230,240,250,260],"title":"Wavelength (nm)","orient":"bottom"}},
    "y":{"field":"m","type":"quantitative","scale":{"domain":[-8500,8000],"nice":false,"zero":false},"axis":{"values":[-8000,-6000,-4000,-2000,0,2000,4000,6000,8000],"labelExpr":"datum.value + ''","title":"MRE (deg.cm².dmol⁻¹)","titlePadding":35,"titleY":253,"orient":"left"}},
    "strokeDash":{"field":"s","type":"nominal","scale":{"domain":["PBS","25% TFE","50% TFE"],"range":[[4,21],[16,12],[1,0]]},"legend":{"title":null,"legendX":503,"legendY":-57,"symbolStrokeWidth":3.5}}
   }},
  {"mark":{"type":"point","opacity":0},
   "encoding":{
    "x":{"field":"w","type":"quantitative","axis":{"orient":"bottom","values":[195,200,205,210,215,220,225,230,235,240,245,250,255,260],"labels":false,"domain":false,"tickSize":5,"title":null}},
    "y":{"field":"m","type":"quantitative","axis":{"orient":"left","values":[-8000,-7000,-6000,-5000,-4000,-3000,-2000,-1000,0,1000,2000,3000,4000,5000,6000,7000,8000],"labels":false,"domain":false,"tickSize":5,"title":null}}
   }}
 ],
 "resolve":{"axis":{"x":"independent","y":"independent"}}
},
{"title":{"text":"(b)","dx":-47,"offset":-24},
 "width":749,"height":542,
 "transform":[{"filter":"datum.p==='b'"}],
 "layer":[
  {"mark":{"type":"line","color":"#111","strokeWidth":3,"strokeJoin":"round"},
   "encoding":{
    "x":{"field":"w","type":"quantitative","scale":{"domain":[195,260],"nice":false,"zero":false},"axis":{"values":[200,210,220,230,240,250,260],"title":"Wavelength (nm)","orient":"bottom"}},
    "y":{"field":"m","type":"quantitative","scale":{"domain":[-16000,16000],"nice":false,"zero":false},"axis":{"values":[-15000,-12000,-9000,-6000,-3000,0,3000,6000,9000,12000,15000],"labelExpr":"datum.value + ''","title":"MRE (deg.cm².dmol⁻¹)","titlePadding":26,"titleY":261,"orient":"left"}},
    "strokeDash":{"field":"s","type":"nominal","scale":{"domain":["PBS","25% TFE","50% TFE"],"range":[[4,21],[16,12],[1,0]]},"legend":{"title":null,"legendX":505,"legendY":-57,"symbolStrokeWidth":3.5}}
   }},
  {"mark":{"type":"point","opacity":0},
   "encoding":{
    "x":{"field":"w","type":"quantitative","axis":{"orient":"bottom","values":[195,200,205,210,215,220,225,230,235,240,245,250,255,260],"labels":false,"domain":false,"tickSize":5,"title":null}},
    "y":{"field":"m","type":"quantitative","axis":{"orient":"left","values":[-15000,-13500,-12000,-10500,-9000,-7500,-6000,-4500,-3000,-1500,0,1500,3000,4500,6000,7500,9000,10500,12000,13500,15000],"labels":false,"domain":false,"tickSize":5,"title":null}}
   }}
 ],
 "resolve":{"axis":{"x":"independent","y":"independent"}}
},
{"title":{"text":"(c)","dx":-53,"offset":-33},
 "width":772,"height":532,
 "transform":[{"filter":"datum.p==='c'"}],
 "layer":[
  {"mark":{"type":"line","color":"#111","strokeWidth":2,"strokeJoin":"round"},
   "encoding":{
    "x":{"field":"w","type":"quantitative","scale":{"domain":[195,260],"nice":false,"zero":false},"axis":{"values":[200,210,220,230,240,250,260],"title":"Wavelength (nm)","orient":"bottom"}},
    "y":{"field":"m","type":"quantitative","scale":{"domain":[-15000,30000],"nice":false,"zero":false},"axis":{"values":[-15000,-10000,-5000,0,5000,10000,15000,20000,25000,30000],"labelExpr":"datum.value + ''","title":"MRE (deg.cm².dmol⁻¹)","titleY":226,"orient":"left"}},
    "strokeDash":{"field":"s","type":"nominal","scale":{"domain":["PBS","25% TFE","50% TFE"],"range":[[3,17],[11,7],[1,0]]},"legend":{"title":null,"legendX":526,"legendY":-61,"symbolStrokeWidth":2.5}}
   }},
  {"mark":{"type":"point","opacity":0},
   "encoding":{
    "x":{"field":"w","type":"quantitative","axis":{"orient":"bottom","values":[195,200,205,210,215,220,225,230,235,240,245,250,255,260],"labels":false,"domain":false,"tickSize":5,"title":null}},
    "y":{"field":"m","type":"quantitative","axis":{"orient":"left","values":[-15000,-12500,-10000,-7500,-5000,-2500,0,2500,5000,7500,10000,12500,15000,17500,20000,22500,25000,27500,30000],"labels":false,"domain":false,"tickSize":5,"title":null}}
   }}
 ],
 "resolve":{"axis":{"x":"independent","y":"independent"}}
},
{"title":{"text":"(d)","dx":-47,"offset":-38},
 "width":778,"height":529,
 "transform":[{"filter":"datum.p==='d'"}],
 "layer":[
  {"mark":{"type":"line","color":"#111","strokeWidth":2,"strokeJoin":"round"},
   "encoding":{
    "x":{"field":"w","type":"quantitative","scale":{"domain":[195,260],"nice":false,"zero":false},"axis":{"values":[200,210,220,230,240,250,260],"title":"Wavelength (nm)","orient":"bottom"}},
    "y":{"field":"m","type":"quantitative","scale":{"domain":[-15000,12000],"nice":false,"zero":false},"axis":{"values":[-15000,-10000,-5000,0,5000,10000],"labelExpr":"datum.value + ''","title":"MRE (deg.cm².dmol⁻¹)","titleY":232,"orient":"left"}},
    "strokeDash":{"field":"s","type":"nominal","scale":{"domain":["PBS","25% TFE","50% TFE"],"range":[[3,17],[11,7],[1,0]]},"legend":{"title":null,"legendX":530,"legendY":-56,"symbolStrokeWidth":2.5}}
   }},
  {"mark":{"type":"point","opacity":0},
   "encoding":{
    "x":{"field":"w","type":"quantitative","axis":{"orient":"bottom","values":[195,200,205,210,215,220,225,230,235,240,245,250,255,260],"labels":false,"domain":false,"tickSize":5,"title":null}},
    "y":{"field":"m","type":"quantitative","axis":{"orient":"left","values":[-15000,-12500,-10000,-7500,-5000,-2500,0,2500,5000,7500,10000],"labels":false,"domain":false,"tickSize":5,"title":null}}
   }}
 ],
 "resolve":{"axis":{"x":"independent","y":"independent"}}
}
],
"config":{
 "view":{"stroke":null},
 "axis":{"labelFont":"Liberation Sans","titleFont":"Liberation Sans","labelFontSize":24,"titleFontSize":30,"titleFontWeight":"normal","labelColor":"#333","titleColor":"#333","domainColor":"#111","domainWidth":2.5,"tickColor":"#111","tickWidth":2.5,"tickSize":10,"labelPadding":11,"titlePadding":18,"grid":false,"labelFlush":false,"labelOverlap":false},
 "axisX":{"labelPadding":7,"titlePadding":16},
 "legend":{"orient":"none","padding":0,"labelFont":"Liberation Sans","labelFontSize":29,"labelColor":"#333","symbolType":"stroke","symbolSize":5476,"symbolStrokeColor":"#111","rowPadding":5,"clipHeight":29,"labelOffset":10},
 "title":{"font":"Liberation Serif","fontSize":44,"fontWeight":"bold","color":"#000","anchor":"start","frame":"group"}
}
}
